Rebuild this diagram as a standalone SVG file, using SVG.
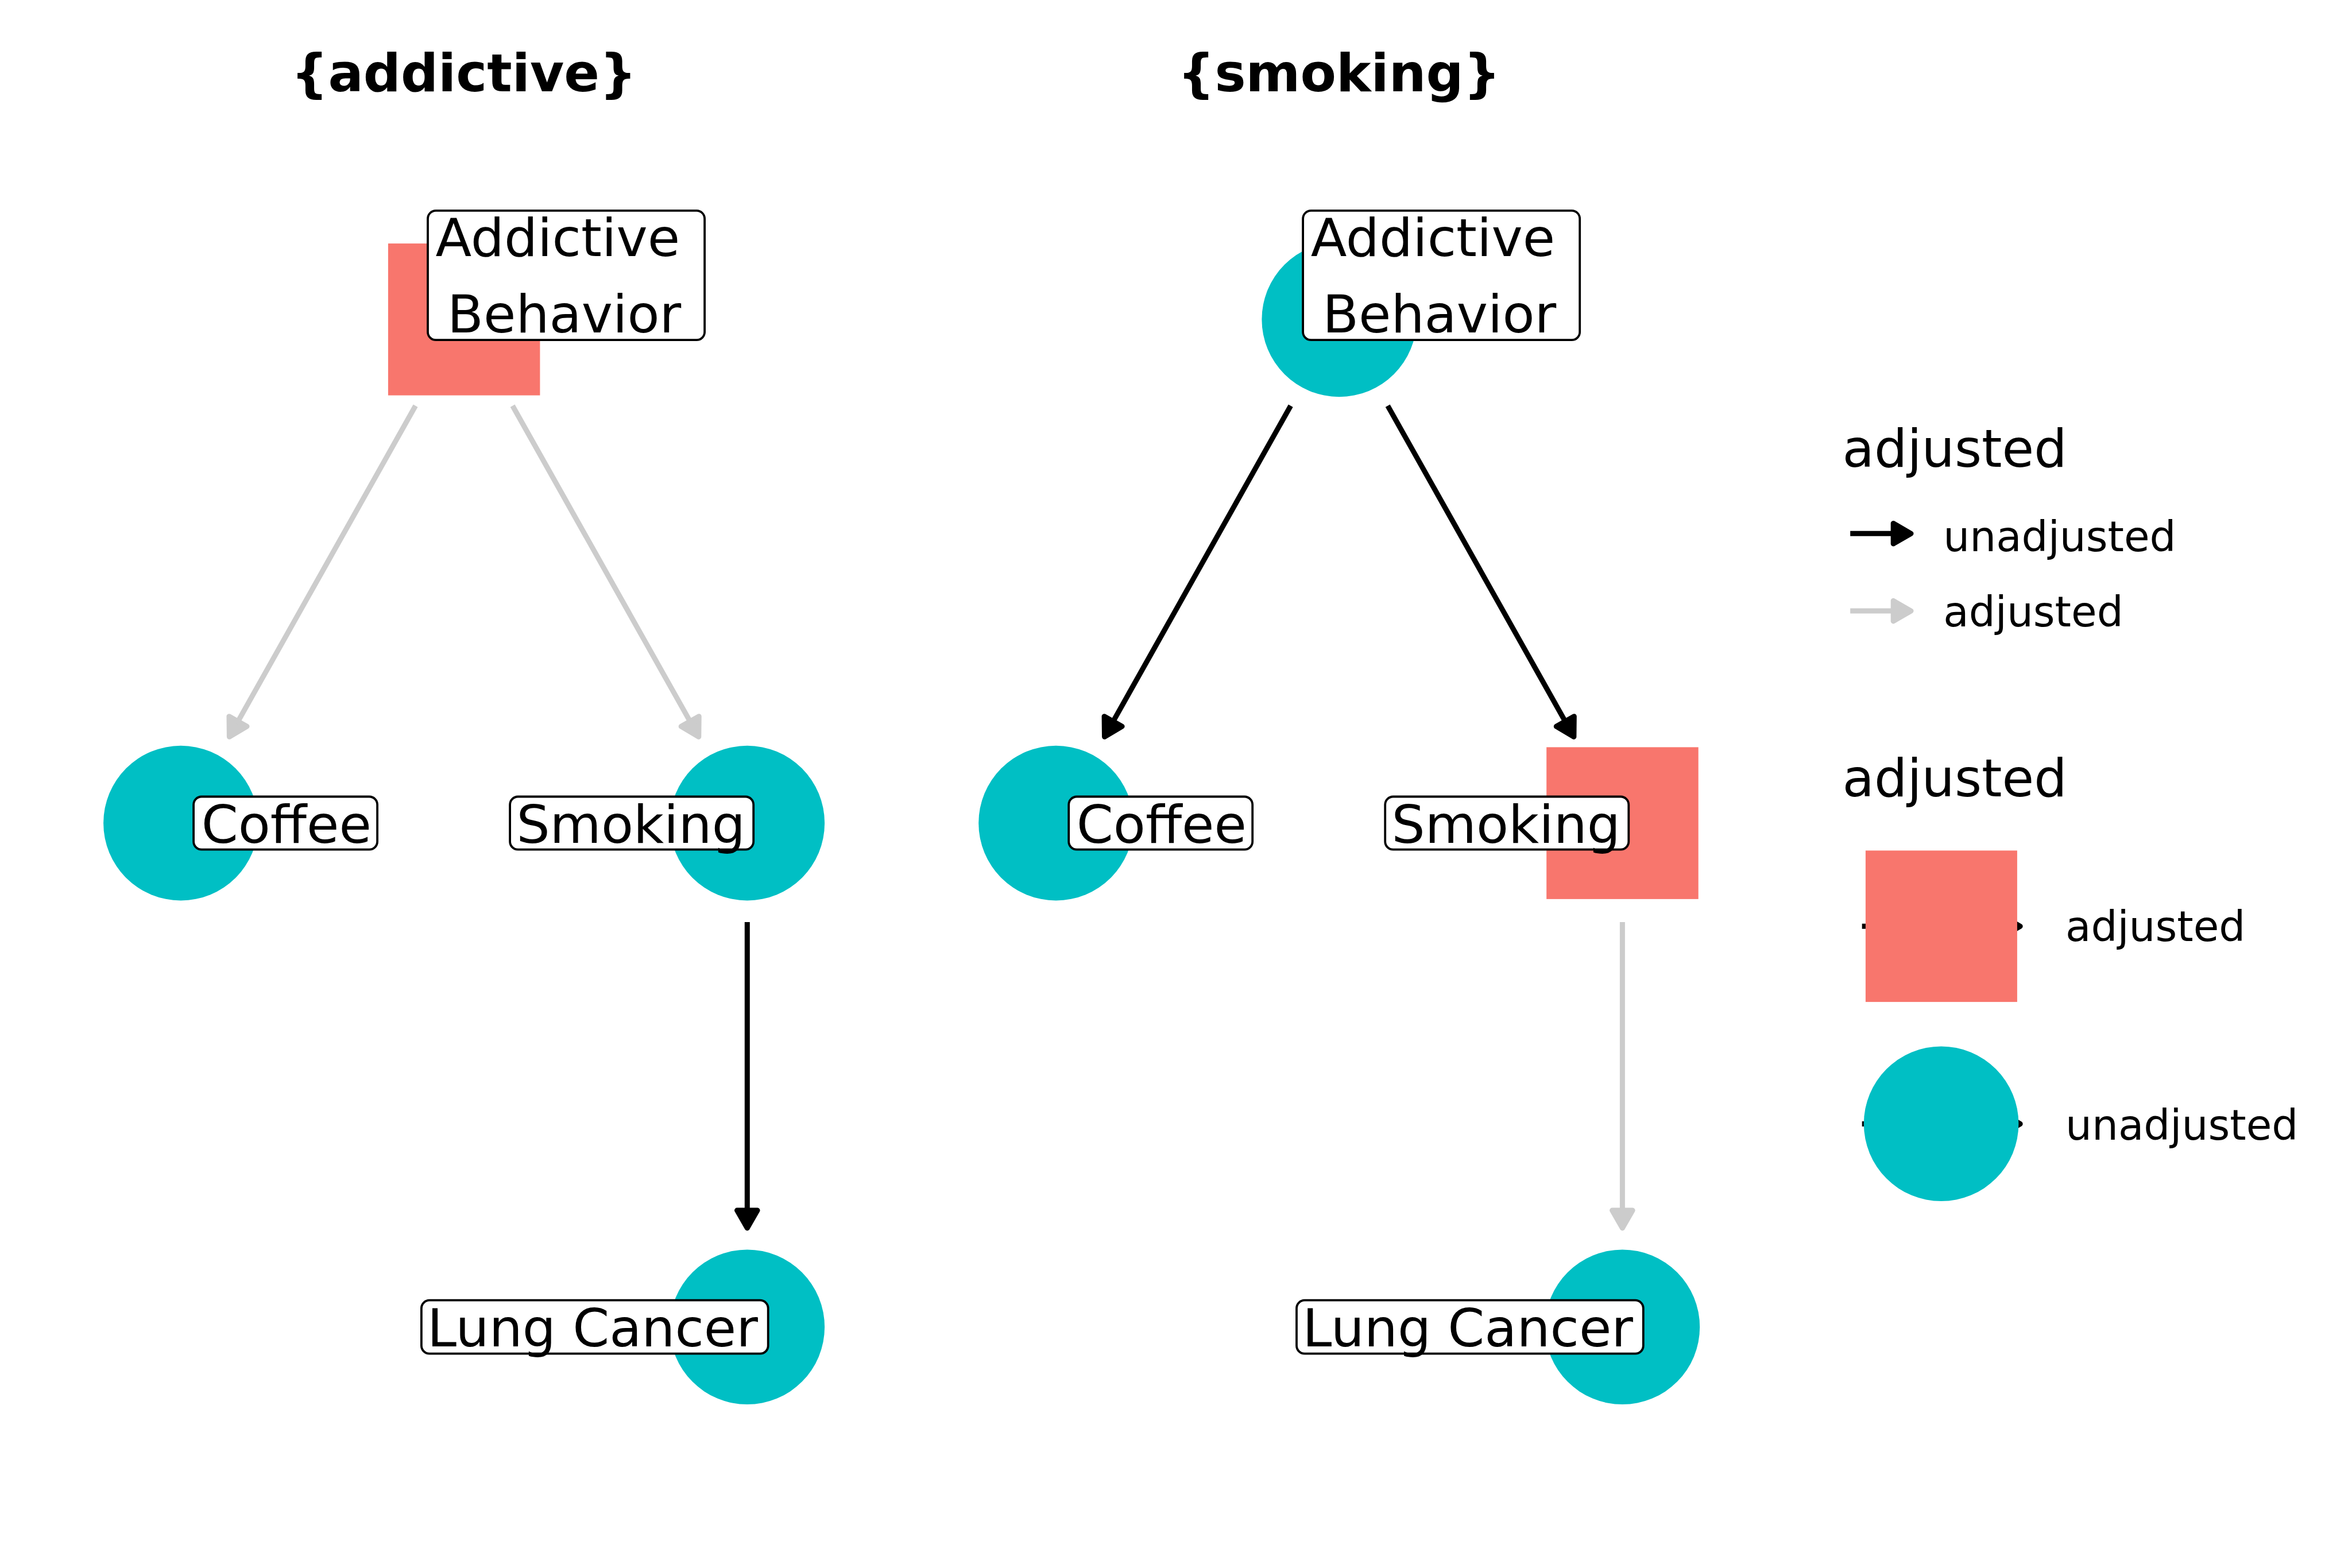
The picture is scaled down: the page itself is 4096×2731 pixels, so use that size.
<svg xmlns="http://www.w3.org/2000/svg" width="4096" height="2731" viewBox="0 0 4096 2731">
<style>
text{font-family:"DejaVu Sans","Liberation Sans",sans-serif;fill:#000}
.title{font-size:91px;font-weight:bold;text-anchor:middle}
.lbl{font-size:91.7px}
.lgt{font-size:90.5px}
.lgl{font-size:72.5px}
.box{fill:#fff;stroke:#000;stroke-width:3.8}
.adj{fill:#F8766D}
.unadj{fill:#00BFC4}
.eb{stroke:#000;stroke-width:9;fill:none;marker-end:url(#ab)}
.eg{stroke:#CCCCCC;stroke-width:9;fill:none;marker-end:url(#ag)}
</style>
<defs>
<marker id="ab" markerUnits="userSpaceOnUse" viewBox="-40 -25 45 50" markerWidth="45" markerHeight="50" refX="0" refY="0" orient="auto" overflow="visible">
<path d="M0,0 L-30.8,-17.8 L-30.8,17.8 Z" fill="#000" stroke="#000" stroke-width="9" stroke-linejoin="round"/>
</marker>
<marker id="ag" markerUnits="userSpaceOnUse" viewBox="-40 -25 45 50" markerWidth="45" markerHeight="50" refX="0" refY="0" orient="auto" overflow="visible">
<path d="M0,0 L-30.8,-17.8 L-30.8,17.8 Z" fill="#CCCCCC" stroke="#CCCCCC" stroke-width="9" stroke-linejoin="round"/>
</marker>
</defs>
<rect width="4096" height="2731" fill="#fff"/>

<text class="title" x="807.7" y="159.1">{addictive}</text>
<text class="title" x="2332" y="159.1">{smoking}</text>

<g id="connectors">
<line class="eg" x1="723.6" y1="706.7" x2="399.4" y2="1283.3"/>
<line class="eg" x1="892.6" y1="706.7" x2="1216.8" y2="1283.3"/>
<line class="eb" x1="1301.3" y1="1606" x2="1301.3" y2="2138.9"/>
<line class="eb" x1="2247.7" y1="706.7" x2="1923.5" y2="1283.3"/>
<line class="eb" x1="2416.7" y1="706.7" x2="2740.9" y2="1283.3"/>
<line class="eg" x1="2825.4" y1="1606" x2="2825.4" y2="2138.9"/>
</g>

<g id="p1-addictive-behavior">
<rect class="adj" x="675.9" y="424.1" width="264.5" height="264.5"/>
</g>
<g id="p1-coffee"><circle class="unadj" cx="314.9" cy="1433.6" r="134.8"/></g>
<g id="p1-smoking"><circle class="unadj" cx="1301.3" cy="1433.6" r="134.8"/></g>
<g id="p1-lung-cancer"><circle class="unadj" cx="1301.3" cy="2311.3" r="134.8"/></g>

<g id="p2-addictive-behavior"><circle class="unadj" cx="2332.2" cy="556.4" r="134.8"/></g>
<g id="p2-coffee"><circle class="unadj" cx="1839" cy="1433.6" r="134.8"/></g>
<g id="p2-smoking"><rect class="adj" x="2693.2" y="1301.4" width="264.5" height="264.5"/></g>
<g id="p2-lung-cancer"><circle class="unadj" cx="2825.4" cy="2311.3" r="134.8"/></g>

<g id="labels-p1">
<rect class="box" x="745" y="366.9" width="482.1" height="225.3" rx="14"/>
<text class="lbl" x="758.6" y="446.3">Addictive</text>
<text class="lbl" x="779.1" y="579.4">Behavior</text>
<rect class="box" x="337.1" y="1387.5" width="320" height="92.2" rx="14"/>
<text class="lbl" x="350.7" y="1468.3">Coffee</text>
<rect class="box" x="888.1" y="1387.5" width="424.1" height="92.2" rx="14"/>
<text class="lbl" x="899.4" y="1468.3">Smoking</text>
<rect class="box" x="733.9" y="2264.7" width="603.8" height="93" rx="14"/>
<text class="lbl" x="744.1" y="2344.7">Lung Cancer</text>
</g>
<g id="labels-p2">
<rect class="box" x="2269.1" y="366.9" width="482.1" height="225.3" rx="14"/>
<text class="lbl" x="2282.7" y="446.3">Addictive</text>
<text class="lbl" x="2303.2" y="579.4">Behavior</text>
<rect class="box" x="1861.2" y="1387.5" width="320" height="92.2" rx="14"/>
<text class="lbl" x="1874.8" y="1468.3">Coffee</text>
<rect class="box" x="2412.2" y="1387.5" width="424.1" height="92.2" rx="14"/>
<text class="lbl" x="2423.5" y="1468.3">Smoking</text>
<rect class="box" x="2258" y="2264.7" width="603.8" height="93" rx="14"/>
<text class="lbl" x="2268.2" y="2344.7">Lung Cancer</text>
</g>

<g id="legend-edges">
<text class="lgt" x="3208.5" y="813.2">adjusted</text>
<line class="eb" x1="3222.2" y1="929.3" x2="3328" y2="929.3"/>
<text class="lgl" x="3384.3" y="960.4">unadjusted</text>
<line class="eg" x1="3222.2" y1="1064.1" x2="3328" y2="1064.1"/>
<text class="lgl" x="3384.3" y="1091.4">adjusted</text>
</g>
<g id="legend-nodes">
<text class="lgt" x="3208.5" y="1387.2">adjusted</text>
<line class="eb" x1="3242.7" y1="1613.3" x2="3518.2" y2="1613.3"/>
<rect class="adj" x="3248.9" y="1481.4" width="264" height="263.7"/>
<text class="lgl" x="3597" y="1639.3">adjusted</text>
<line class="eb" x1="3242.7" y1="1957.5" x2="3518.2" y2="1957.5"/>
<circle class="unadj" cx="3380.6" cy="1957.3" r="134.8"/>
<text class="lgl" x="3597" y="1984.9">unadjusted</text>
</g>
</svg>
